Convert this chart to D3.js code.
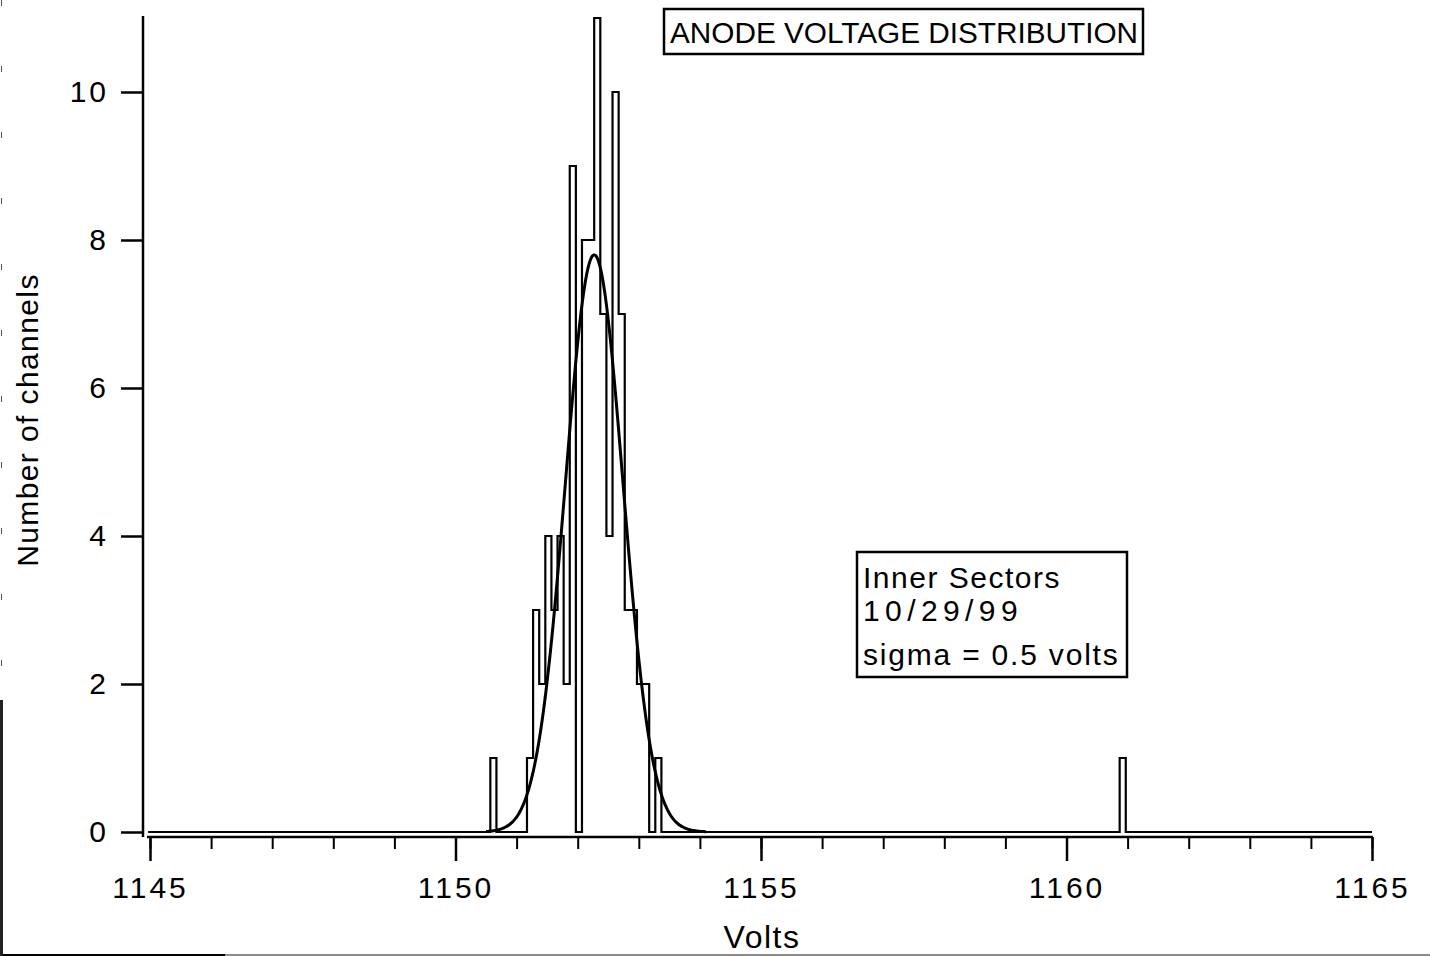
<!DOCTYPE html>
<html>
<head>
<meta charset="utf-8">
<script src="https://cdn.jsdelivr.net/npm/d3@7"></script>
<style>
  body { margin: 0; background: #fff; }
  svg { display: block; font-family: "Liberation Sans", Arial, sans-serif; }
</style>
</head>
<body>
<div id="chart"></div>
<script>
// histogram bins (0.1 V wide)
const binStart = [
  1150.6,
  1151.2, 1151.3, 1151.4, 1151.5, 1151.6, 1151.7, 1151.8, 1151.9,
  1152.0, 1152.1, 1152.2, 1152.3, 1152.4, 1152.5, 1152.6, 1152.7,
  1152.8, 1152.9, 1153.0, 1153.1, 1153.2, 1153.3,
  1160.9
];
const binCount = [
  1,
  1, 3, 2, 4, 3, 4, 2, 9,
  0, 8, 8, 11, 7, 4, 10, 7,
  3, 3, 2, 2, 0, 1,
  1
];
const binWidth = 0.1;
const binShift = -0.03; // plotted bins sit slightly left of the grid

// gaussian fit drawn on top
const fitMean = 1152.27;
const fitSigma = 0.47;
const fitPeak = 7.8;
const fitRange = [1150.5, 1154.1];

const xTicksMajor = [1145, 1150, 1155, 1160, 1165];
const yTicks = [0, 2, 4, 6, 8, 10];
const noteLines = ["Inner Sectors", "10/29/99", "sigma = 0.5 volts"];

const W = 1430, H = 956;
const svg = d3.select("#chart").append("svg")
  .attr("width", W).attr("height", H);

const x = d3.scaleLinear().domain([1145, 1165]).range([150, 1372]);
const y = d3.scaleLinear().domain([0, 10]).range([832, 92]);

// scan frame remnants
svg.append("line")
  .attr("x1", 0).attr("x2", W).attr("y1", 955).attr("y2", 955)
  .attr("stroke", "#666").attr("stroke-width", 1.5);
svg.append("line")
  .attr("x1", 0).attr("x2", 225).attr("y1", 955).attr("y2", 955)
  .attr("stroke", "#000").attr("stroke-width", 2);
svg.append("line")
  .attr("x1", 1.5).attr("x2", 1.5).attr("y1", 700).attr("y2", 956)
  .attr("stroke", "#222").attr("stroke-width", 3);
svg.append("line")
  .attr("x1", 1.5).attr("x2", 1.5).attr("y1", 0).attr("y2", 700)
  .attr("stroke", "#555").attr("stroke-width", 1)
  .attr("stroke-dasharray", "6,60");

// histogram step outline
const lookup = new Map(binStart.map((b, i) => [Math.round(b * 10), binCount[i]]));
const allBins = d3.range(11450, 11650).map(k => ({
  lo: k / 10 + binShift,
  n: lookup.get(k) || 0
}));
let d = `M${x(1145)},${y(0)}`;
allBins.forEach(b => {
  d += `L${x(b.lo)},${y(b.n)}L${x(b.lo + binWidth)},${y(b.n)}`;
});
d += `L${x(1165)},${y(0)}`;
svg.append("path")
  .attr("d", d)
  .attr("fill", "none")
  .attr("stroke", "#000")
  .attr("stroke-width", 2.2);

// fit curve
const fitPts = d3.range(fitRange[0], fitRange[1] + 0.001, 0.02)
  .map(v => [v, fitPeak * Math.exp(-((v - fitMean) ** 2) / (2 * fitSigma ** 2))]);
svg.append("path")
  .datum(fitPts)
  .attr("fill", "none")
  .attr("stroke", "#000")
  .attr("stroke-width", 3)
  .attr("d", d3.line().x(p => x(p[0])).y(p => y(p[1])).curve(d3.curveMonotoneX));

// x axis
const xAxisY = 837;
const gx = svg.append("g").attr("transform", `translate(0,${xAxisY})`);
gx.call(d3.axisBottom(x).tickValues(d3.range(1145, 1166, 1)).tickSize(12).tickFormat(""))
  .call(g => {
    g.select(".domain").attr("stroke-width", 2.5)
      .attr("d", `M${x(1145) - 3},0H${x(1165) + 1}`);
    g.selectAll(".tick line").attr("stroke-width", 2);
  });
gx.append("g")
  .call(d3.axisBottom(x).tickValues(xTicksMajor).tickSize(24).tickPadding(16)
    .tickFormat(d3.format("d")))
  .call(g => {
    g.select(".domain").remove();
    g.selectAll(".tick line").attr("stroke-width", 2.5);
    g.selectAll(".tick text")
      .attr("fill", "#000")
      .style("font-size", "30px")
      .style("letter-spacing", "3px")
      .style("font-family", "'Liberation Sans', Arial, sans-serif");
  });

svg.append("text")
  .attr("x", 762).attr("y", 948)
  .attr("text-anchor", "middle")
  .style("font-size", "32px")
  .style("letter-spacing", "1.5px")
  .text("Volts");

// y axis
const gy = svg.append("g").attr("transform", "translate(143,0)");
gy.call(d3.axisLeft(y).tickValues(yTicks).tickSize(22).tickPadding(12))
  .call(g => {
    g.select(".domain").attr("stroke-width", 2.5)
      .attr("d", `M0,16V${xAxisY}`);
    g.selectAll(".tick line").attr("stroke-width", 2.5);
    g.selectAll(".tick text")
      .attr("fill", "#000")
      .style("font-size", "30px")
      .style("letter-spacing", "3px")
      .style("font-family", "'Liberation Sans', Arial, sans-serif");
  });

svg.append("text")
  .attr("transform", "translate(38,420) rotate(-90)")
  .attr("text-anchor", "middle")
  .style("font-size", "30px")
  .style("letter-spacing", "1.4px")
  .text("Number of channels");

// title box
svg.append("rect")
  .attr("x", 664).attr("y", 9).attr("width", 479).attr("height", 45)
  .attr("fill", "#fff").attr("stroke", "#000").attr("stroke-width", 2.5);
svg.append("text")
  .attr("x", 670).attr("y", 43)
  .attr("textLength", 468).attr("lengthAdjust", "spacingAndGlyphs")
  .style("font-size", "29px")
  .text("ANODE VOLTAGE DISTRIBUTION");

// annotation box
const noteBaseline = [588, 621, 665];
const noteSpacing = ["1.5px", "5.4px", "1.8px"];
svg.append("rect")
  .attr("x", 857).attr("y", 552).attr("width", 270).attr("height", 125)
  .attr("fill", "#fff").attr("stroke", "#000").attr("stroke-width", 2.5);
svg.selectAll(".note")
  .data(noteLines)
  .join("text")
  .attr("class", "note")
  .attr("x", 863)
  .attr("y", (t, i) => noteBaseline[i])
  .style("font-size", "30px")
  .style("letter-spacing", (t, i) => noteSpacing[i])
  .text(t => t);
</script>
</body>
</html>
